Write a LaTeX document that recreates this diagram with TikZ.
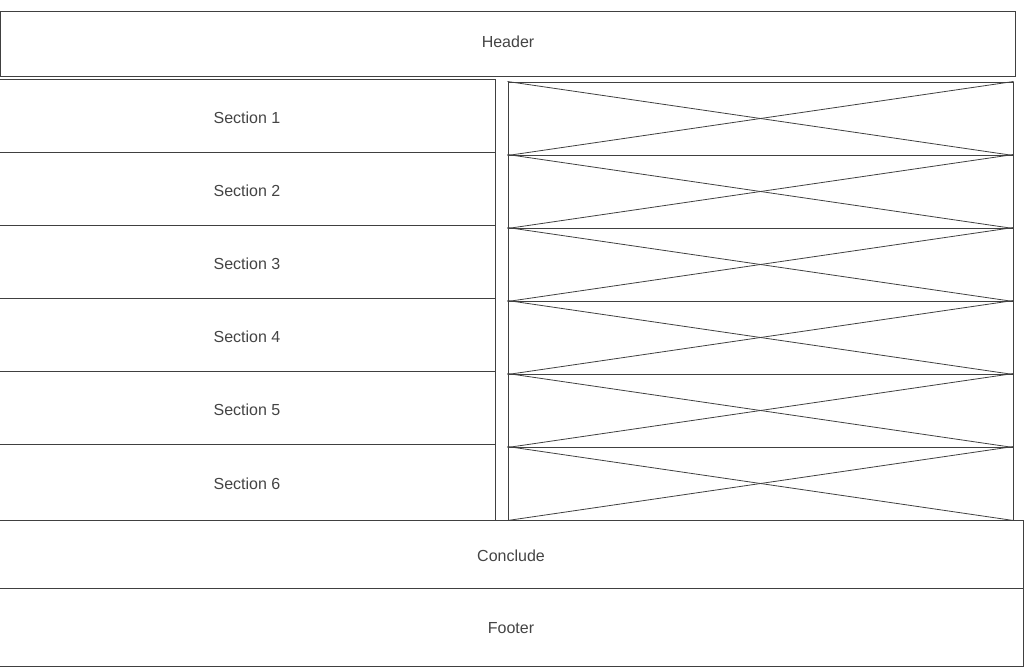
\documentclass[tikz,border=0pt]{standalone}
\usepackage{fontspec}
\setmainfont{Liberation Sans}
\usetikzlibrary{positioning}
\definecolor{linegray}{HTML}{404040}
\definecolor{textgray}{HTML}{444444}
\tikzset{
  panel/.style={draw=linegray, line width=1pt, text=textgray, inner sep=0pt, text height=15.7pt, text depth=0pt, font=\fontsize{16}{19}\selectfont},
  placeholder/.style={draw=linegray, line width=1pt, inner sep=0pt, minimum width=505pt, minimum height=73pt},
  cross/.style={draw=linegray, line width=0.8pt}
}

\begin{document}
\begin{tikzpicture}[x=1pt,y=-1pt]
		\useasboundingbox (0,0) rectangle (1024,667);
		%%%%% START %%%%%
		
		\node[panel, text height=8.7pt, minimum width=1015pt, minimum height=65pt] (header) at (508,43.5) {Header};
		
		\foreach \i in {1,...,5} {
			\node[panel, minimum width=496pt, minimum height=73pt] (sec\i) at (247,{115.5+73*(\i-1)}) {Section \i};
		}
		\node[panel, text height=14.3pt, minimum width=496pt, minimum height=76pt] (sec6) at (247,482) {Section 6};
		
		\foreach \i in {1,...,6} {
			\node[placeholder] (img\i) at (760.5,{118.5+73*(\i-1)}) {};
			\draw[cross] (img\i.north west) -- (img\i.south east);
			\draw[cross] (img\i.south west) -- (img\i.north east);
		}
		
		\node[panel, minimum width=1024pt, minimum height=68pt] (conclude) at (511,554) {Conclude};
		\node[panel, text height=13.7pt, minimum width=1024pt, minimum height=78pt] (footer) at (511,627) {Footer};
		
		%%%%% END %%%%%
	\end{tikzpicture}
\end{document}
